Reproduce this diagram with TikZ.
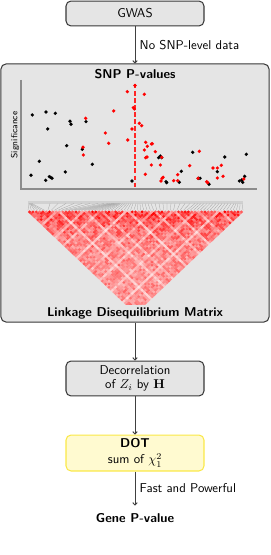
\documentclass[tikz,border=0pt]{standalone}
\usetikzlibrary{arrows.meta}
\definecolor{boxfill}{gray}{0.9}
\definecolor{boxline}{gray}{0.22}
\definecolor{dotfill}{RGB}{255,250,208}
\definecolor{dotline}{RGB}{250,232,70}
\definecolor{axisgray}{gray}{0.55}
\begin{document}
\begin{tikzpicture}[x=0.78125pt,y=-0.78125pt, font=\sffamily,
  box/.style={draw=boxline, fill=boxfill, rounded corners=3.9pt, line width=0.8pt,
              minimum width=107.8pt, align=center, inner sep=2pt},
  dotbox/.style={box, draw=dotline, fill=dotfill},
  arr/.style={draw=black!75, line width=0.75pt, -{To[length=2.5pt,width=4pt]}},
  lbl/.style={right, inner sep=3.3pt},
  snpk/.style={fill=black},
  snpr/.style={fill=red},
]
\useasboundingbox (0,0) rectangle (270,555);

% big panel
\node[box, minimum width=209.4pt, minimum height=201.6pt] (big) at (135,193) {};

% scatter plot
\draw[axisgray, line width=0.8pt] (21,80) -- (21,189) -- (257,189);
\draw[red!85!white, line width=0.8pt, dash pattern=on 3.5pt off 2pt] (135,84) -- (135,189);
\node[rotate=90, font=\sffamily\fontsize{7}{8}\selectfont] (sig) at (15,135) {Significance};

\foreach \p in {(32.3,115),(46,112),(55.3,113.3),(70,121.3),(71,124.3),(47.7,129),(86,121.7),
  (66.7,145.7),(82.3,149.3),(39.3,161.3),(92.3,164.3),(31,175.3),(65.3,172),(49.3,176.7),
  (50.7,177.3),(52,178.3),(45.7,180.3),(132,181),(160.3,156),(158.7,157.7),(161.7,157.7),
  (192.7,152.3),(224.7,157),(246.3,154.3),(181.3,171.3),(166,181.7),(166.7,182.7),(179.3,182.3),
  (198.3,178.3),(200,178.3),(209,184.3),(217.3,171.7),(239.3,181),(241.7,180),(242.7,182.3),
  (244.7,176.3)}
  \fill[snpk] \p circle[radius=1.8];

\foreach \p in {(135,85.5),(127.3,91.7),(144.3,94.3),(113.7,111),(133.3,107.7),(134.3,109),
  (85.7,118.3),(139.3,123.3),(141.7,125.7),(132,129),(105.3,133),(127.7,140),(108.7,143.3),
  (145.7,142.3),(151.3,144),(152.3,143.7),(147.3,146.3),(144.3,150),(83,147.3),(83.3,155),
  (155.3,151.7),(145.7,157.7),(147,157),(161.7,157.3),(151.3,165),(160.3,165),(145.3,174.3),
  (163,177.3),(162,178.3),(161,181),(173.7,180.7),(177.7,174.7),(177.7,180.7),(189.7,165.7),
  (199.3,151.3),(198,178.3),(206.7,181.7),(207.7,182.7),(213,168),(217.3,168),(221.3,165.3),
  (217.3,178),(223,176.3),(243.7,179)}
  \fill[snpr] \p circle[radius=1.8];

% LD heatmap
\pgfmathsetseed{12345}
\def\qarr{{1,1,.95,1,1,.9,1,1,1,.45,1,1,.9,1,1,1,.85,.5,1,1,1,1,.6,1,1,.9,1,1,1,1,.45,1,1,.9,1,1,1,1,.6,1,1,1,.9,1,.5,1,1,1,1,1,.9,.6,1,1,1,1,.9,1,.5,1,1,1,1,.95,1,1}}
\def\parr{{29,29.5,30,30.5,31,32,50,58,66,74,82,90,98,104,108,110,112,113,114,115,116,117,118,119,120,121,123,125,127,129,131,133,136,138,140,142,145,148,151,155,159,163,167,171,175,180,185,190,195,198,201,204,207,210,213,216,219,222,225,228,231,234,236,238,240,242}}
\draw[black!18, line width=2pt] (28,202.3) -- (243,202.3);
\foreach \i in {0,...,65}{
  \pgfmathsetmacro\xc{28+\i*3.3077}
  \pgfmathsetmacro\pp{\parr[\i]}
  \draw[gray!75, line width=0.2pt] (\pp,203.5) -- (\xc,210.3);
}
\foreach \d in {1,...,65}{
  \pgfmathtruncatemacro\imax{65-\d}
  \foreach \i in {0,...,\imax}{
    \pgfmathsetmacro\cx{28+(2*\i+\d)*1.65385}
    \pgfmathsetmacro\cy{212+(\d-1)*1.57}
    \pgfmathtruncatemacro\v{min(100,100*\qarr[\i]*\qarr[\i+\d]*(0.5+0.5*rnd)*(0.55+0.45*exp(-\d/14))*1.08)}
    \fill[red!\v!white] (\cx,\cy-1.65) -- (\cx+1.73,\cy) -- (\cx,\cy+1.65) -- (\cx-1.73,\cy) -- cycle;
  }
}

% titles
\node[font=\sffamily\bfseries, anchor=base] (snpt) at (135,78.3) {SNP P-values};
\node[font=\sffamily\bfseries, anchor=base, fill=boxfill, inner sep=1.5pt] (ldt) at (135,316) {Linkage Disequilibrium Matrix};

% flow
\node[box, minimum height=19.5pt] (gwas) at (135,13.5) {GWAS};
\node[box, minimum height=27.3pt, font=\sffamily\fontsize{10}{11}\selectfont] (dec) at (135,378.5) {Decorrelation\\ of $Z_i$ by $\mathbf{H}$};
\node[dotbox, minimum height=28.1pt, font=\sffamily\fontsize{10}{12.5}\selectfont] (dot) at (135,453) {\textbf{DOT}\\ sum of $\chi^2_1$};
\node[font=\sffamily\bfseries, inner sep=6pt, anchor=base] (gene) at (135,522.5) {Gene P-value};

\draw[arr] (gwas) -- node[lbl] {No SNP-level data} (big);
\draw[arr] (big) -- (dec);
\draw[arr] (dec) -- (dot);
\draw[arr] (dot) -- node[lbl] {Fast and Powerful} (gene);
\end{tikzpicture}
\end{document}
